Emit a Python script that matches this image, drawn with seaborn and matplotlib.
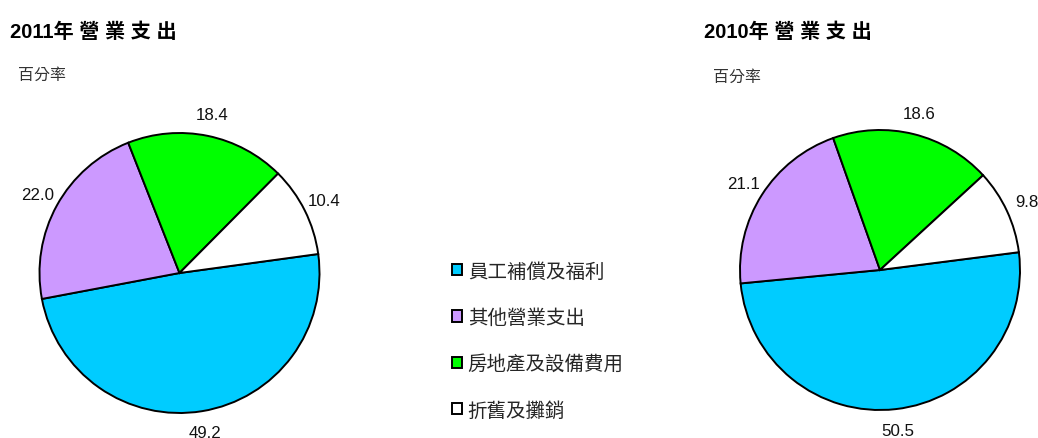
import matplotlib.pyplot as plt
import seaborn as sns
from matplotlib.patches import Patch

sns.set_theme(style="white")
plt.rcParams['font.family'] = ['Liberation Sans', 'Noto Sans CJK TC', 'DejaVu Sans']

categories = ['員工補償及福利', '其他營業支出', '房地產及設備費用', '折舊及攤銷']
share_2011 = [49.2, 22.0, 18.4, 10.4]
share_2010 = [50.5, 21.1, 18.6, 9.8]
colors = sns.color_palette(['#00CCFF', '#CC99FF', '#00FF00', '#FFFFFF'])

W, H = 1038, 439
fig = plt.figure(figsize=(W / 100, H / 100), dpi=100)

R = 140  # pie radius in pixels
def pie_axes(cx, cy):
    half = 200
    ax = fig.add_axes([(cx - half) / W, (H - cy - half) / H, 2 * half / W, 2 * half / H])
    return ax, half / R

def draw_pie(cx, cy, values, start):
    ax, lim = pie_axes(cx, cy)
    ax.pie(values, colors=colors, startangle=start, counterclock=False,
           labels=[f'{v:.1f}' for v in values], labeldistance=1.155,
           wedgeprops=dict(edgecolor='black', linewidth=1.4),
           textprops=dict(fontsize=12.2, color='#111111', ha='center', va='center'))
    ax.set_xlim(-lim, lim)
    ax.set_ylim(-lim, lim)
    ax.set_aspect('equal')
    ax.axis('off')

draw_pie(179.5, 274, share_2011, 7.8)
draw_pie(880, 271, share_2010, 7.3)

fig.text(10 / W, 1 - 32 / H, '2011年 營 業 支 出', fontsize=14.5, fontweight='bold',
         ha='left', va='center', color='black')
fig.text(704 / W, 1 - 32 / H, '2010年 營 業 支 出', fontsize=14.5, fontweight='bold',
         ha='left', va='center', color='black')
fig.text(18 / W, 1 - 75 / H, '百分率', fontsize=11.5, ha='left', va='center', color='#333333')
fig.text(713 / W, 1 - 77 / H, '百分率', fontsize=11.5, ha='left', va='center', color='#333333')

handles = [Patch(facecolor=c, edgecolor='black', linewidth=1.4) for c in colors]
fig.legend(handles, categories, loc='upper left', bbox_to_anchor=(444 / W, 1 - 255 / H),
           frameon=False, fontsize=14, handlelength=0.52, handleheight=0.52,
           handletextpad=0.3, labelspacing=1.42, borderaxespad=0)

fig.savefig('out.png', dpi=100)
